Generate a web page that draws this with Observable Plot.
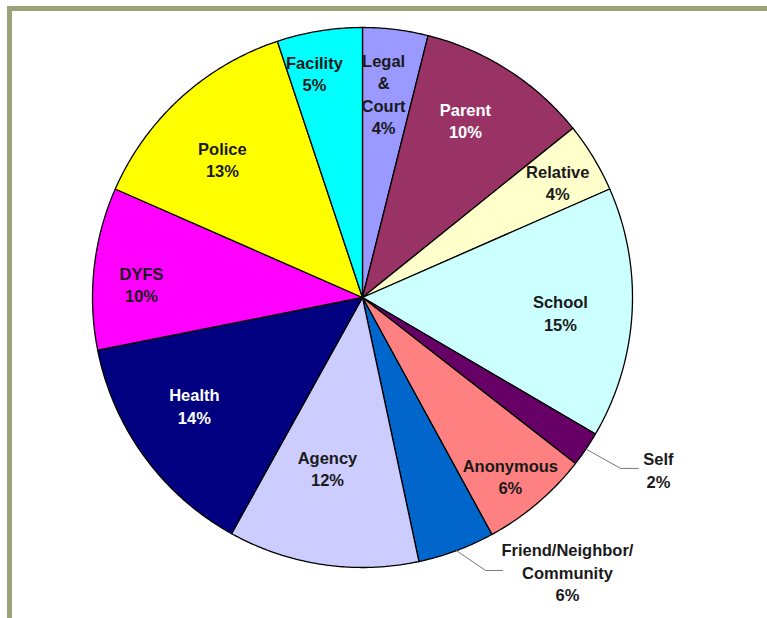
<!DOCTYPE html>
<html><head><meta charset="utf-8">
<script src="https://cdn.jsdelivr.net/npm/d3@7"></script>
<script src="https://cdn.jsdelivr.net/npm/@observablehq/plot@0.6"></script>
<style>
body{margin:0;background:#fff;}
#wrap{position:relative;width:767px;height:618px;overflow:hidden;}
#wrap svg{position:absolute;left:0;top:0;}
#frame{position:absolute;left:7px;top:6px;width:800px;height:700px;border-top:5px solid #9ca27a;border-left:5px solid #9ca27a;pointer-events:none;z-index:2;}
</style></head><body><div id="wrap"><div id="frame"></div></div>
<script>
// ---- data (clockwise from 12 o'clock) ----
const categories = ["Legal & Court","Parent","Relative","School","Self","Anonymous","Friend/Neighbor/Community","Agency","Health","DYFS","Police","Facility"];
const labelTexts = ["Legal\n&\nCourt","Parent","Relative","School","Self","Anonymous","Friend/Neighbor/\nCommunity","Agency","Health","DYFS","Police","Facility"];
const shares = [3.9,10.3,4.2,15.0,2.1,6.5,4.6,11.4,13.8,9.7,13.3,5.1];
const percentLabels = ["4%","10%","4%","15%","2%","6%","6%","12%","14%","10%","13%","5%"];
const colors = ["#9999ff","#993366","#ffffcc","#ccffff","#660066","#ff8080","#0066cc","#ccccff","#000080","#ff00ff","#ffff00","#00ffff"];

// ---- layout (styles / positions, not data) ----
const W = 767, H = 618, cx = 362, cy = 297, R = 270;
// label placement in polar layout: [angle in degrees clockwise from 12 o'clock, radius fraction]
const labelPolar = {"Legal & Court":[5.9,0.76], "Parent":[30.1,0.76], "Relative":[59.4,0.84], "School":[94.3,0.735], "Anonymous":[140.3,0.857], "Agency":[191.6,0.645], "Health":[237.3,0.74], "DYFS":[273.6,0.82], "Police":[314.7,0.73], "Facility":[347.9,0.85]};
const callouts = {
  "Self": {elbow:[0.956,-0.633], end:[1.022,-0.633], label:[1.096,-0.637]},
  "Friend/Neighbor/Community": {elbow:[0.456,-1.011], end:[0.519,-1.011], label:[0.759,-1.015]}
};
const whiteText = new Set(["Parent","Health"]);

const data = categories.map((c,i)=>({category:c, share:shares[i], pct:percentLabels[i], color:colors[i], text:labelTexts[i]}));
const arcs = d3.pie().sort(null).value(d=>d.share)(data);
const pt = (a,r)=>[r*Math.sin(a), r*Math.cos(a)];

const slices = arcs.flatMap(a=>{
  const n = Math.max(2, Math.ceil((a.endAngle-a.startAngle)/(Math.PI/360)));
  const pts = [{key:a.data.category, color:a.data.color, x:0, y:0}];
  for (let k=0;k<=n;k++){
    const ang = a.startAngle + (a.endAngle-a.startAngle)*k/n;
    const [x,y] = pt(ang,1);
    pts.push({key:a.data.category, color:a.data.color, x, y});
  }
  pts.push({key:a.data.category, color:a.data.color, x:0, y:0});
  return pts;
});

const labels = arcs.map(a=>{
  const c = a.data.category;
  let x, y;
  if (callouts[c]) { [x,y] = callouts[c].label; }
  else { const [deg, r] = labelPolar[c]; [x,y] = pt(deg*Math.PI/180, r); }
  return {x, y, text: a.data.text + "\n" + a.data.pct, tc: whiteText.has(c) ? "#ffffff" : "#1a1a1a"};
});

const leaders = arcs.filter(a=>callouts[a.data.category]).flatMap(a=>{
  const c = a.data.category, mid = (a.startAngle+a.endAngle)/2, co = callouts[c];
  const [x0,y0] = pt(mid, 1);
  return [{key:c,x:x0,y:y0},{key:c,x:co.elbow[0],y:co.elbow[1]},{key:c,x:co.end[0],y:co.end[1]}];
});

const chart = Plot.plot({
  width: W, height: H, margin: 0,
  x: {domain:[-cx/R,(W-cx)/R], axis:null},
  y: {domain:[(cy-H)/R, cy/R], axis:null},
  color: {type:"identity"},
  style: {background:"transparent", fontFamily:"'Liberation Sans', Arial, sans-serif"},
  marks: [
    Plot.line(slices, {x:"x", y:"y", z:"key", fill:"color", stroke:"#000", strokeWidth:1.3, curve:"linear"}),
    Plot.line(leaders, {x:"x", y:"y", z:"key", stroke:"#777", strokeWidth:1}),
    Plot.text(labels, {x:"x", y:"y", text:"text", fill:"tc", fontSize:16.5, fontWeight:"bold", lineHeight:1.36})
  ]
});
document.getElementById("wrap").appendChild(chart);
</script>
</body></html>
